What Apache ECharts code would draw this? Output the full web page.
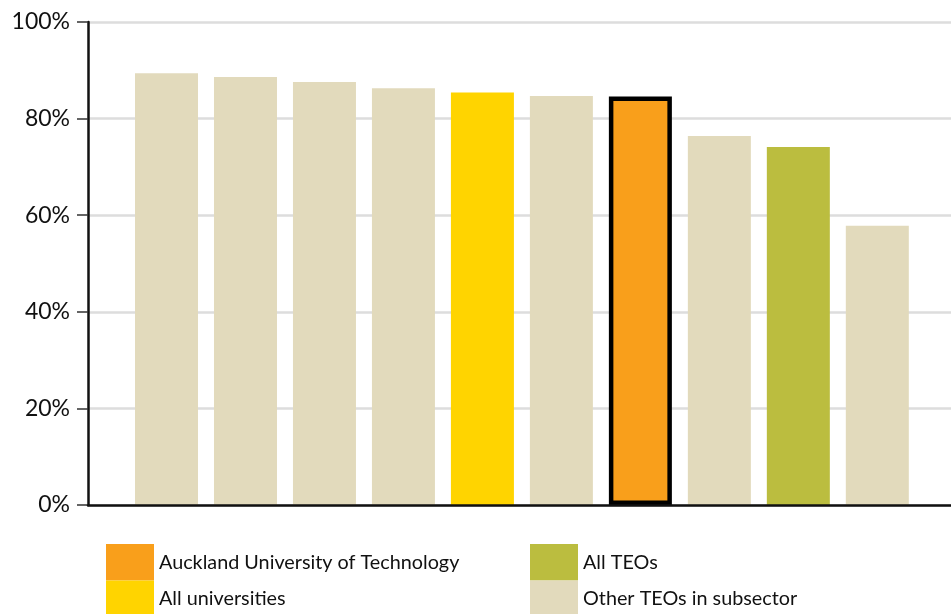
<!DOCTYPE html>
<html lang="en">
<head>
    <meta charset="UTF-8">
    <title>Bar chart</title>
    <script src="https://cdn.jsdelivr.net/npm/echarts@6/dist/echarts.min.js"></script>
    <style>
        html, body { margin: 0; padding: 0; background: #fff; }
        #chart { width: 951px; height: 614px; }
    </style>
</head>
<body>
    <div id="chart"></div>
<script>
    // bar groups in left-to-right order, and their values (%)
    var groups = ['other', 'other', 'other', 'other', 'univ', 'other', 'aut', 'other', 'all', 'other'];
    var values = [89.4, 88.6, 87.6, 86.3, 85.4, 84.7, 84.6, 76.4, 74.1, 57.8];
    var yTicks = [0, 20, 40, 60, 80, 100];

    var names = {
        aut: 'Auckland University of Technology',
        univ: 'All universities',
        all: 'All TEOs',
        other: 'Other TEOs in subsector'
    };
    var colors = {
        aut: '#F99F1B',
        univ: '#FFD400',
        all: '#BBBD3F',
        other: '#E2DABC'
    };

    function pick(key){
        var out = [];
        for (var i = 0; i < values.length; i++) {
            if (groups[i] == key) out.push([i, values[i]]);
        }
        return out;
    }

    function barSeries(key){
        return {
            name: names[key],
            type: 'bar',
            stack: 'one',
            barWidth: 63,
            itemStyle: { color: colors[key] },
            data: pick(key)
        };
    }

    // one legend box per entry, two columns of two
    function legendItem(key, left, top){
        return {
            left: left, top: top, padding: 0,
            itemWidth: 48, itemHeight: 36.5, icon: 'rect', selectedMode: false,
            itemStyle: { borderWidth: 0 },
            textStyle: { fontFamily: 'Lato', fontSize: 19.8, color: '#111' },
            data: [names[key]]
        };
    }

    var chart = echarts.init(document.getElementById('chart'));

    chart.setOption({
        animation: false,
        grid: { left: 88, right: 0, top: 22, bottom: 109 },
        legend: [
            legendItem('aut', 106, 544),
            legendItem('univ', 106, 580.5),
            legendItem('all', 530, 544),
            legendItem('other', 530, 580.5)
        ],
        xAxis: {
            type: 'value', min: -0.994, max: 9.933, z: 5,
            axisLine: { show: true, onZero: false, lineStyle: { color: '#111', width: 2.5 } },
            axisTick: { show: false }, axisLabel: { show: false }, splitLine: { show: false }
        },
        yAxis: {
            type: 'value', min: yTicks[0], max: yTicks[yTicks.length - 1], interval: 20,
            axisLine: { show: true, onZero: false, lineStyle: { color: '#111', width: 2.5 } },
            axisTick: { show: true, length: 11, lineStyle: { color: '#333', width: 1.5 } },
            axisLabel: { formatter: '{value}%', margin: 18, fontFamily: 'Lato', fontSize: 23, color: '#111' },
            splitLine: { show: true, lineStyle: { color: '#DDDDDD', width: 2.5 } }
        },
        series: [
            barSeries('other'),
            barSeries('univ'),
            barSeries('all'),
            {
                name: names.aut,
                type: 'bar',
                stack: 'one',
                barWidth: 63,
                itemStyle: { color: colors.aut, borderColor: '#000', borderWidth: 4.5 },
                data: pick('aut')
            }
        ]
    });
</script>
</body>
</html>
